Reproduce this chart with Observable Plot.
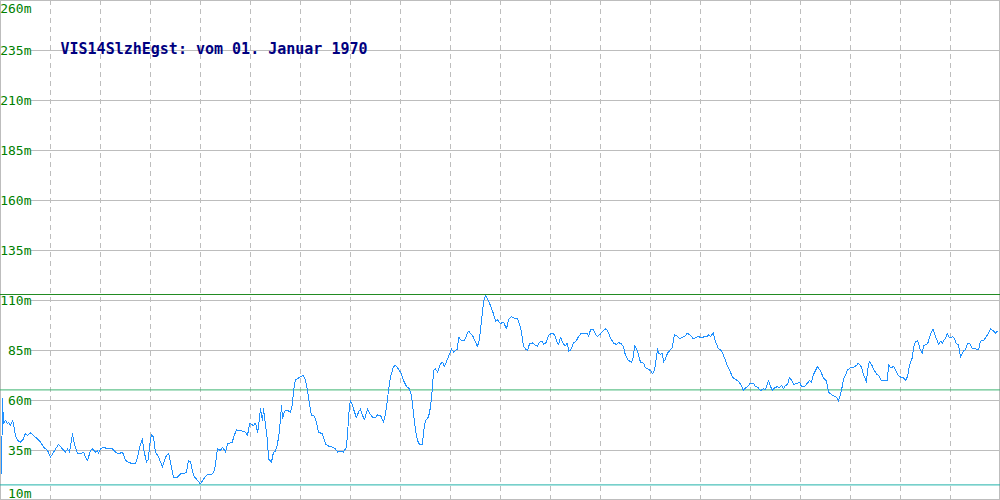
<!DOCTYPE html>
<html>
<head>
<meta charset="utf-8">
<script src="https://cdn.jsdelivr.net/npm/d3@7"></script>
<script src="https://cdn.jsdelivr.net/npm/@observablehq/plot@0.6"></script>
<style>
  html, body { margin: 0; padding: 0; background: #fff; }
  #chart svg { display: block; }
</style>
</head>
<body>
<div id="chart"></div>
<script>
// ---- data ----
const titleText = "VIS14SlzhEgst: vom 01. Januar 1970";
const yTicks = [260, 235, 210, 185, 160, 135, 110, 85, 60, 35, 10];
const xTicks = [50, 100, 150, 200, 250, 300, 350, 400, 450, 500, 550, 600, 650, 700, 750, 800, 850, 900, 950];
const maxValue = 113;
const meanValue = 65.3;
const minValue = 17.8;
const sampleT = [
  1,2,3,5,7,8,10,12,13,15,17,20,23,25,27,30,33,37,40,43,47,50,52,55,58,62,65,67,69,72,73,77,80,83,85,87,90,92,95,97,98,100,
  103,107,112,115,118,122,125,128,132,135,137,140,142,143,146,148,149,151,153,155,158,162,165,168,170,173,177,180,183,186,188,190,
  193,197,200,203,207,212,214,217,220,222,225,227,232,233,236,240,245,247,249,
  250,253,255,257,258,260,262,263,265,267,268,271,273,275,277,279,281,282,284,287,290,292,293,295,297,300,303,305,307,309,311,313,
  315,317,318,322,325,328,332,335,337,341,343,346,347,349,350,352,354,356,358,360,362,364,367,369,372,375,377,380,383,384,386,388,
  390,393,395,398,401,403,406,409,411,413,415,417,419,422,423,425,428,430,432,433,435,437,440,442,444,447,449,451,453,457,458,461,
  464,466,468,472,475,477,479,481,483,485,487,490,493,495,497,500,
  503,506,508,511,513,517,519,521,523,525,527,529,532,534,537,539,542,543,546,548,551,554,557,558,560,563,565,567,568,570,573,576,
  578,581,584,587,588,590,593,595,597,600,603,605,607,610,613,616,618,621,623,625,628,631,633,634,637,638,640,643,645,647,650,652,
  654,656,657,658,660,662,663,665,667,668,672,673,674,677,679,682,684,687,690,693,696,698,701,704,707,708,710,713,714,716,718,721,
  723,725,727,729,732,734,737,740,743,745,747,750,
  753,755,757,760,763,765,767,768,770,772,774,777,779,781,783,785,787,789,792,793,797,799,801,804,807,809,811,813,817,820,823,826,
  828,832,836,838,841,843,845,847,850,853,856,858,861,863,866,867,869,871,873,876,878,881,883,887,888,890,893,895,897,900,903,905,
  907,909,912,913,915,917,918,920,922,923,927,928,930,932,933,935,937,938,940,942,943,945,947,948,950,952,954,956,958,960,962,963,
  965,967,969,972,975,978,980,983,986,988,990,993,995,997
];
const sampleV = [
  23.3,60.8,48.3,50,48.3,49.2,47.5,50,48.3,42.5,40,39.2,40.8,43.7,42.5,43.8,42.5,40.8,39.2,36.7,35,31.7,33.3,35.8,38,35.8,34.2,35.8,34.2,43.3,40,33.3,33.3,34.2,31.7,30,35,35.8,34.2,35,33.7,35.8,
  36.7,35.8,35.8,34.2,33.3,34.2,30,29.2,28.3,28.3,31.7,38.3,40.8,35.8,29.2,30.8,37.5,43,41.7,34.2,31.7,26.7,31.7,33.7,29.2,21.7,21.7,23.3,23.3,24.2,30,29.2,
  22.5,20,18.3,20.8,23,23.3,25,35.8,35,36.7,34.2,38.3,39.2,41.7,45.3,45,44.2,42.5,48.3,
  48.3,47.5,48.7,44.2,46.7,55.8,50,55.8,47.5,40,30.8,29.2,34.2,34.7,38.3,45,57.5,50.8,54.7,55,54.2,58.3,65,70.3,70.8,72,72.5,70,65,58.3,52.5,52.5,
  50.8,46.7,44.2,43.3,38.3,37.2,36.7,35.8,34.2,34.7,34.2,36.7,43.3,57.5,60,57.5,54.2,51.3,54.2,55.8,52.5,50.3,55.8,53.7,51.7,51.3,52.8,52.5,49.2,50.8,56.7,65,
  71.7,77,77.5,75.8,73.3,70,67,65.8,62.5,53.3,45,40,38,38,44.2,50,51.7,56.7,66.7,75,75.8,74.2,78.3,79.2,77,80.8,83.3,85.8,84.2,85.8,91.7,90,
  90,92.5,94.7,92.5,89.2,87,90.8,100,109.2,112.5,110.8,107.5,103.3,99.7,100.3,98.5,
  99.2,95.8,100.3,102,101.3,100.8,98.3,94.2,87,85.8,85,88.3,88.8,88,87,89.2,89.7,88,89.2,92.5,93.7,93,88.3,88,91.7,88,87.5,88.7,84.7,85,88.7,90,
  92,93.7,93.7,93.7,92,95.3,95.3,93,92,93.3,95,95.8,95,91.3,88.7,88,89,88.3,86.7,82.5,80,79.2,81.7,87.5,85,82.5,79.2,78.7,76.3,75.8,75,73.3,
  75,81.7,85.8,83.7,83,83.7,79.2,80.8,83.7,84.2,86.7,90.8,93,92,90.8,91.7,92,93.7,92.5,90.8,91.7,92,91.3,92,92,93,92,93.8,90.8,88.3,85.8,85,
  82.5,80,77,75.3,71.7,70.8,70,68.3,65,66.3,67,68.7,
  68.7,67,66.7,65,65.8,65.3,68.3,70,67,65,66.3,67,66.3,67.5,65.8,67.5,68,71.7,69.2,68,68.7,69.2,67,67,68.7,70,69.2,73,77,74.7,71.3,69.7,
  64.2,62.5,61.7,59.7,65,70.8,72.5,75.3,76.3,76.7,77.5,78.7,76.7,73,69.2,75.3,79.7,78,75.8,73.3,72.5,70,70,70,78,76.3,77,75.3,73,71.7,71.3,70,
  72,77.5,81.7,86.7,89.2,90,88.7,85,83.7,87.5,88.3,89.7,93,95.3,95.3,92,89.7,88,89.7,88.7,89.7,91.3,93.7,92,91.3,92,90.8,88.3,88,81.7,83.7,84.7,
  85.3,88.3,88.7,85.8,85.8,85.3,89.7,90,92,93.7,95.8,94.7,93.7,94.7
];

const series = sampleT.map((t, i) => ({t, v: sampleV[i]}));
const midTicks = yTicks.filter(d => d !== 260 && d !== 10);

const grid = "#bdbdbd";
const labelFont = "DejaVu Sans Mono";

const chart = Plot.plot({
  width: 1000,
  height: 500,
  margin: 0,
  x: {domain: [0, 1000], axis: null},
  y: {domain: [10, 260], axis: null},
  style: {background: "#fff", fontFamily: labelFont},
  marks: [
    Plot.ruleX(xTicks, {x: d => d, stroke: grid, strokeDasharray: "5,4", strokeWidth: 1}),
    Plot.ruleY(yTicks, {y: d => d, stroke: grid, strokeWidth: 1, insetLeft: 31}),
    Plot.frame({stroke: grid, insetRight: 1, insetBottom: 1}),
    Plot.ruleY([maxValue], {y: d => d, stroke: "#228b22", strokeWidth: 1}),
    Plot.ruleY([meanValue], {y: d => d, stroke: "#3cb371", strokeWidth: 1}),
    Plot.ruleY([minValue], {y: d => d, stroke: "#20b2aa", strokeWidth: 1}),
    Plot.line(series, {x: "t", y: "v", stroke: "#1e90ff", strokeWidth: 1, shapeRendering: "crispEdges"}),
    Plot.text(midTicks, {y: d => d, text: d => `${d}m`, frameAnchor: "left", dx: 31, textAnchor: "end", fill: "#008000", fontSize: 13, fontFamily: labelFont}),
    Plot.text([260], {y: d => d, text: d => `${d}m`, frameAnchor: "left", dx: 31, dy: 8, textAnchor: "end", fill: "#008000", fontSize: 13, fontFamily: labelFont}),
    Plot.text([10], {y: d => d, text: d => `${d}m`, frameAnchor: "left", dx: 31, dy: -7, textAnchor: "end", fill: "#008000", fontSize: 13, fontFamily: labelFont}),
    Plot.text([titleText], {text: d => d, frameAnchor: "top-left", dx: 60, dy: 42.5, lineAnchor: "top", textAnchor: "start", fill: "#000080", fontSize: 15, fontWeight: "bold", fontFamily: labelFont})
  ]
});
document.getElementById("chart").appendChild(chart);
</script>
</body>
</html>
